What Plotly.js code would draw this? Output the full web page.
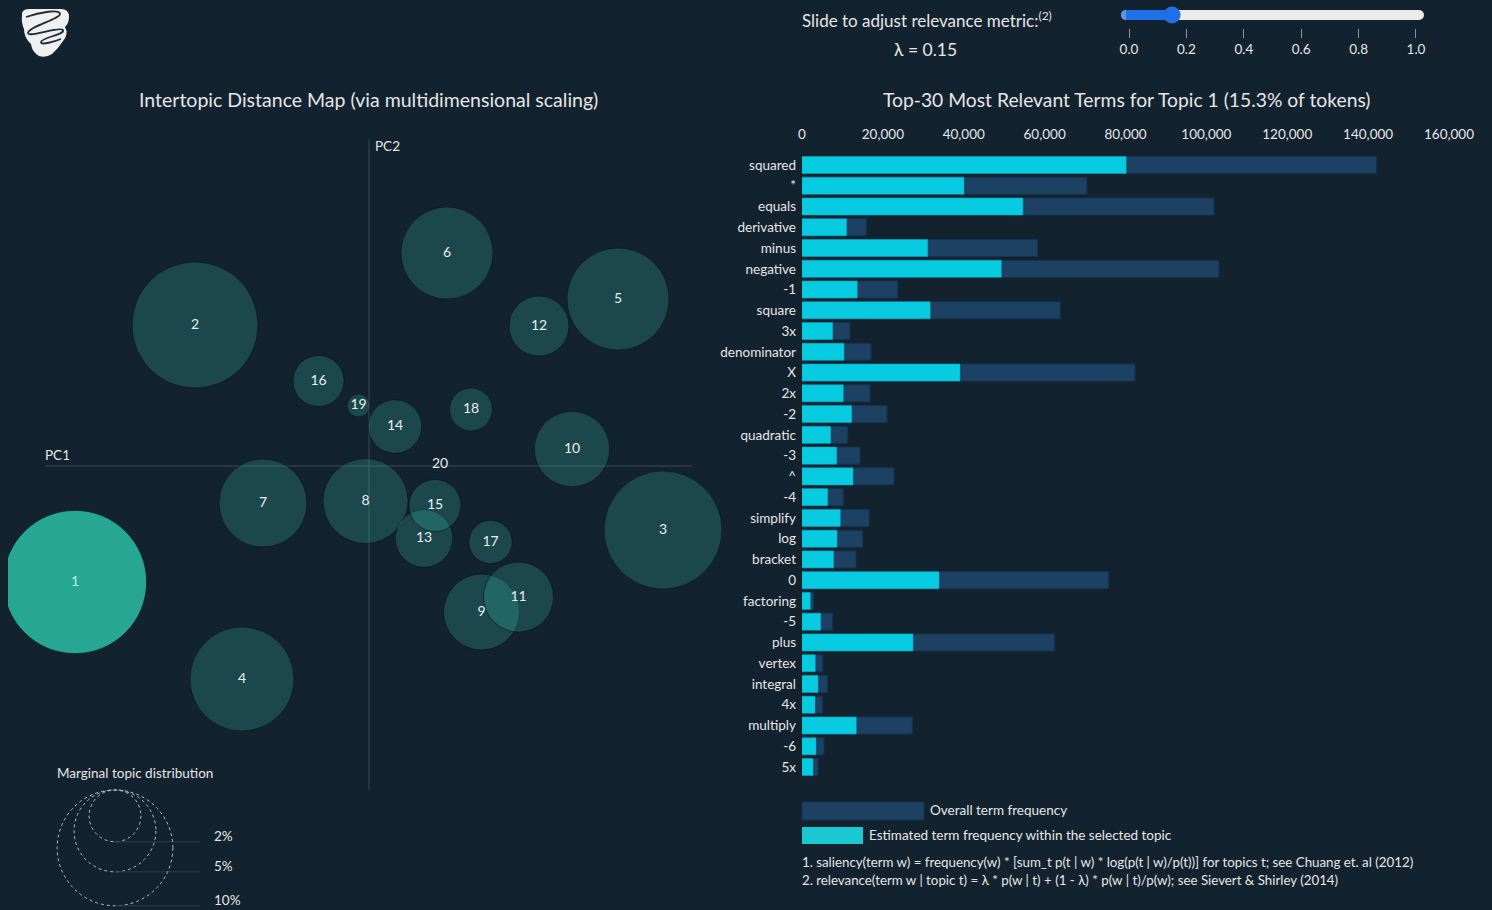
<!DOCTYPE html>
<html>
<head>
<meta charset="utf-8">
<script src="https://cdn.plot.ly/plotly-3.0.1.min.js"></script>
<style>html,body{margin:0;padding:0;background:#13222f;}#chart{width:1492px;height:910px;}</style>
</head>
<body>
<div id="chart"></div>
<script>
// ---------- DATA ----------
const topicIds = [1,2,3,4,5,6,7,8,9,10,11,12,13,14,15,16,17,18,19,20];
const topicPC1 = [-0.294,-0.174,0.294,-0.127,0.249,0.078,-0.106,-0.0035,0.1125,0.203,0.1495,0.170,0.055,0.026,0.066,-0.0505,0.1215,0.102,-0.0105,0.071];
const topicPC2 = [-0.116,0.141,-0.064,-0.213,0.167,0.213,-0.037,-0.035,-0.146,0.017,-0.131,0.140,-0.0725,0.0395,-0.0395,0.085,-0.076,0.0565,0.0605,0.002];
const topicPct = [15.3,11.85,10.39,8.07,7.77,6.32,5.78,5.39,4.30,4.25,3.66,2.69,2.47,2.14,2.02,1.94,1.40,1.37,0.39,0.003];
const selectedTopic = 1;

const terms = ["squared","*","equals","derivative","minus","negative","-1","square","3x","denominator","X","2x","-2","quadratic","-3","^","-4","simplify","log","bracket","0","factoring","-5","plus","vertex","integral","4x","multiply","-6","5x"];
const overallFreq = [142100,70450,101860,15880,58240,103100,23620,63850,11870,17060,82350,16820,21020,11300,14340,22750,10220,16570,15000,13350,75840,2880,7590,62400,5110,6350,5030,27280,5440,3960];
const topicFreq = [80170,40060,54630,11030,31090,49290,13650,31700,7590,10390,39070,10220,12290,7090,8580,12610,6350,9480,8660,7830,33880,2060,4620,27450,3300,3960,3210,13430,3460,2720];
const freqTicks = [0,20000,40000,60000,80000,100000,120000,140000,160000];

const lambdaTicks = [0,0.2,0.4,0.6,0.8,1.0];
const lambdaValue = 0.15;
const legendPercents = [2,5,10];

// ---------- STYLE / LAYOUT ----------
const W = 1492, H = 910;
const px = x => x / W, py = y => 1 - y / H;
const BG = '#13222f', TXT = '#e6e6e6', FONT = 'Lato, "Open Sans", sans-serif';
const RK = 0.0183; // radius per sqrt(percent), data units

const shapes = [];
// PC axes lines
shapes.push({type:'line', xref:'x', yref:'y', x0:-0.324, x1:0.323, y0:0, y1:0, line:{color:'#3b4955', width:1}, layer:'below'});
shapes.push({type:'line', xref:'x', yref:'y', x0:0, x1:0, y0:0.326, y1:-0.324, line:{color:'#3b4955', width:1}, layer:'below'});
// topic circles
topicIds.forEach((id, i) => {
  const r = RK * Math.sqrt(topicPct[i]);
  const sel = id === selectedTopic;
  shapes.push({type:'circle', xref:'x', yref:'y',
    x0: topicPC1[i]-r, x1: topicPC1[i]+r, y0: topicPC2[i]-r, y1: topicPC2[i]+r,
    fillcolor: sel ? '#27a692' : 'rgba(60,200,178,0.23)',
    line:{color:'rgba(5,15,22,0.55)', width:1}, layer:'below'});
});
// marginal distribution legend (x4/y4 use same scale as topic map)
const legTopY = 0.120, legCX = 0.115, legLineEnd = 0.200;
const legAnn = [];
legendPercents.forEach(p => {
  const r = RK * Math.sqrt(p);
  shapes.push({type:'circle', xref:'x4', yref:'y4', x0:legCX-r, x1:legCX+r, y0:legTopY-2*r, y1:legTopY,
    line:{color:'#b8bec4', width:1, dash:'dot'}, fillcolor:'rgba(0,0,0,0)'});
  shapes.push({type:'line', xref:'x4', yref:'y4', x0:legCX, x1:legLineEnd, y0:legTopY-2*r, y1:legTopY-2*r,
    line:{color:'#2e3e4a', width:1}});
  legAnn.push({xref:'x4', yref:'y4', x:0.212, y:legTopY-2*r+0.006, text:p+'%', showarrow:false,
    xanchor:'left', yanchor:'middle', font:{family:FONT, size:13.5, color:TXT}});
});
// bar legend swatches
shapes.push({type:'rect', xref:'paper', yref:'paper', x0:px(802), x1:px(924), y0:py(820), y1:py(802), fillcolor:'#1c4163', line:{color:'#15324c', width:1}});
shapes.push({type:'rect', xref:'paper', yref:'paper', x0:px(802), x1:px(863), y0:py(844), y1:py(827), fillcolor:'#19c8d0', line:{width:0}});

const ann = [
  {xref:'paper', yref:'paper', x:px(368), y:py(99), text:'Intertopic Distance Map (via multidimensional scaling)', showarrow:false, xanchor:'center', yanchor:'middle', font:{family:FONT, size:19.5, color:TXT}},
  {xref:'paper', yref:'paper', x:px(1126), y:py(99), text:'Top-30 Most Relevant Terms for Topic '+selectedTopic+' ('+topicPct[selectedTopic-1]+'% of tokens)', showarrow:false, xanchor:'center', yanchor:'middle', font:{family:FONT, size:19.3, color:TXT}},
  {xref:'x', yref:'y', x:-0.326, y:0.001, text:'PC1', showarrow:false, xanchor:'left', yanchor:'bottom', font:{family:FONT, size:13.5, color:TXT}},
  {xref:'x', yref:'y', x:0.004, y:0.320, text:'PC2', showarrow:false, xanchor:'left', yanchor:'middle', font:{family:FONT, size:13.5, color:TXT}},
  {xref:'paper', yref:'paper', x:px(55), y:py(773), text:'Marginal topic distribution', showarrow:false, xanchor:'left', yanchor:'middle', font:{family:FONT, size:13.5, color:TXT}},
  {xref:'paper', yref:'paper', x:px(800), y:py(19), text:'Slide to adjust relevance metric:<sup>(2)</sup>', showarrow:false, xanchor:'left', yanchor:'middle', font:{family:FONT, size:17, color:TXT}},
  {xref:'paper', yref:'paper', x:px(925), y:py(49), text:'λ = '+lambdaValue.toFixed(2), showarrow:false, xanchor:'center', yanchor:'middle', font:{family:FONT, size:17.5, color:TXT}},
  {xref:'paper', yref:'paper', x:px(928), y:py(810), text:'Overall term frequency', showarrow:false, xanchor:'left', yanchor:'middle', font:{family:FONT, size:13.5, color:TXT}},
  {xref:'paper', yref:'paper', x:px(867), y:py(835), text:'Estimated term frequency within the selected topic', showarrow:false, xanchor:'left', yanchor:'middle', font:{family:FONT, size:13.5, color:TXT}},
  {xref:'paper', yref:'paper', x:px(800), y:py(862), text:'1. saliency(term w) = frequency(w) * [sum_t p(t | w) * log(p(t | w)/p(t))] for topics t; see Chuang et. al (2012)', showarrow:false, xanchor:'left', yanchor:'middle', font:{family:FONT, size:13.3, color:TXT}},
  {xref:'paper', yref:'paper', x:px(800), y:py(880), text:'2. relevance(term w | topic t) = λ * p(w | t) + (1 - λ) * p(w | t)/p(w); see Sievert & Shirley (2014)', showarrow:false, xanchor:'left', yanchor:'middle', font:{family:FONT, size:13.3, color:TXT}}
].concat(legAnn);

const logoSvg = "<svg xmlns='http://www.w3.org/2000/svg' viewBox='0 0 50 50' preserveAspectRatio='none'><path d='M2,8 Q1,1 9,1 L41,1 Q49,1 49,9 Q49,15 45,19 Q49,26 43,33 Q38,41 32,46 Q26,50 19,48 Q12,44 11,36 Q4,30 4,21 Q1,14 2,8 Z' fill='#f0f0f0'/><path d='M6,9 C20,4 40,1 40,6 C40,11 8,19 8,25 C8,30 40,18 43,22 C45,27 22,29 21,34 C20,38 36,33 41,31' fill='none' stroke='#1d2c38' stroke-width='1.8'/></svg>";

const cap = 0.0106;
const traces = [
  // topic labels
  {type:'scatter', mode:'text', x:topicPC1, y:topicPC2, text:topicIds.map(String), xaxis:'x', yaxis:'y',
   textfont:{family:FONT, size:14, color:topicIds.map(id => id===selectedTopic ? '#b6f5ea' : '#e8eeee')},
   hoverinfo:'skip', showlegend:false, cliponaxis:false},
  // bars
  {type:'bar', orientation:'h', x:overallFreq, y:terms, xaxis:'x2', yaxis:'y2', name:'Overall term frequency',
   marker:{color:'#1c4163', line:{color:'#16334f', width:1}}, hoverinfo:'skip', showlegend:false},
  {type:'bar', orientation:'h', x:topicFreq, y:terms, xaxis:'x2', yaxis:'y2', name:'Estimated term frequency within the selected topic',
   marker:{color:'#07cbe0', line:{color:'#0aa9bd', width:0.5}}, hoverinfo:'skip', showlegend:false},
  // slider track
  {type:'scatter', mode:'lines+markers', x:[lambdaTicks[0]-cap, lambdaTicks[lambdaTicks.length-1]+cap], y:[0,0], xaxis:'x3', yaxis:'y3',
   line:{color:'#ebebeb', width:10}, marker:{color:'#ebebeb', size:10, line:{width:0}}, cliponaxis:false, hoverinfo:'skip', showlegend:false},
  {type:'scatter', mode:'lines+markers', x:[lambdaTicks[0]-cap, lambdaValue], y:[0,0], xaxis:'x3', yaxis:'y3',
   line:{color:'#1f6fe6', width:10}, marker:{color:'#1f6fe6', size:[10,0], line:{width:0}}, cliponaxis:false, hoverinfo:'skip', showlegend:false},
  {type:'scatter', mode:'markers', x:[lambdaValue], y:[0], xaxis:'x3', yaxis:'y3',
   marker:{color:'#1f6fe6', size:17, line:{width:0}}, cliponaxis:false, hoverinfo:'skip', showlegend:false},
  // placeholder so the legend axes exist
  {type:'scatter', mode:'markers', x:[0], y:[0], xaxis:'x4', yaxis:'y4', marker:{size:0.1, color:'rgba(0,0,0,0)'}, hoverinfo:'skip', showlegend:false}
];

const hidden = {visible:false, showgrid:false, zeroline:false, fixedrange:true};
const layout = {
  width:W, height:H, margin:{l:0, r:0, t:0, b:0},
  paper_bgcolor:BG, plot_bgcolor:'rgba(0,0,0,0)',
  font:{family:FONT, color:TXT},
  showlegend:false,
  barmode:'overlay', bargap:0.18,
  xaxis:Object.assign({}, hidden, {domain:[px(8), px(730)], range:[-0.361, 0.361], anchor:'y'}),
  yaxis:Object.assign({}, hidden, {domain:[py(796), py(136)], range:[-0.330, 0.330], anchor:'x'}),
  xaxis2:{domain:[px(802), px(1449)], range:[0,160000], anchor:'y2', side:'top', tickvals:freqTicks, tickformat:',d',
    showgrid:false, zeroline:false, showline:false, ticks:'', ticklabelstandoff:12,
    tickfont:{family:FONT, size:13.5, color:TXT}, fixedrange:true},
  yaxis2:{domain:[py(777.4), py(154.6)], type:'category', range:[29.5,-0.5], anchor:'x2',
    showgrid:false, zeroline:false, showline:false, ticks:'', ticklabelstandoff:5,
    tickfont:{family:FONT, size:13.5, color:TXT}, fixedrange:true},
  xaxis3:{domain:[px(1121), px(1424)], range:[-0.028,1.028], anchor:'y3', side:'bottom', tickvals:lambdaTicks,
    ticktext:lambdaTicks.map(v => v.toFixed(1)), ticks:'outside', ticklen:9, tickcolor:'#8c959d', tickwidth:1,
    showgrid:false, zeroline:false, showline:false, tickfont:{family:FONT, size:13.5, color:TXT}, fixedrange:true},
  yaxis3:Object.assign({}, hidden, {domain:[py(28), py(2)], range:[-1,1], anchor:'x3'}),
  xaxis4:Object.assign({}, hidden, {domain:[0, px(300)], range:[0,0.300], anchor:'y4'}),
  yaxis4:Object.assign({}, hidden, {domain:[0, py(760)], range:[0,0.150], anchor:'x4'}),
  shapes:shapes,
  annotations:ann,
  images:[{source:'data:image/svg+xml;charset=utf-8,'+encodeURIComponent(logoSvg), xref:'paper', yref:'paper',
    x:px(20), y:py(8), sizex:px(50), sizey:50/H, xanchor:'left', yanchor:'top', sizing:'stretch', layer:'above'}]
};

Plotly.newPlot('chart', traces, layout, {staticPlot:true, displayModeBar:false});
</script>
</body>
</html>
